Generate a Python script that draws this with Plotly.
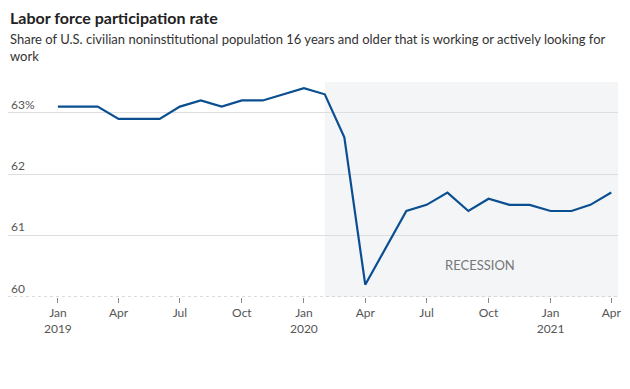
import plotly.graph_objects as go

months = ["2019-01-01","2019-02-01","2019-03-01","2019-04-01","2019-05-01","2019-06-01",
          "2019-07-01","2019-08-01","2019-09-01","2019-10-01","2019-11-01","2019-12-01",
          "2020-01-01","2020-02-01","2020-03-01","2020-04-01","2020-05-01","2020-06-01",
          "2020-07-01","2020-08-01","2020-09-01","2020-10-01","2020-11-01","2020-12-01",
          "2021-01-01","2021-02-01","2021-03-01","2021-04-01"]
rate = [63.1, 63.1, 63.1, 62.9, 62.9, 62.9,
        63.1, 63.2, 63.1, 63.2, 63.2, 63.3,
        63.4, 63.3, 62.6, 60.2, 60.8, 61.4,
        61.5, 61.7, 61.4, 61.6, 61.5, 61.5,
        61.4, 61.4, 61.5, 61.7]

x_tickvals = ["2019-01-01","2019-04-01","2019-07-01","2019-10-01","2020-01-01",
              "2020-04-01","2020-07-01","2020-10-01","2021-01-01","2021-04-01"]
x_ticktext = ["Jan<br>2019","Apr","Jul","Oct","Jan<br>2020","Apr","Jul","Oct","Jan<br>2021","Apr"]
y_tickvals = [60, 61, 62, 63]
y_ticktext = ["60", "61", "62", "63%"]

recession_start = "2020-02-01"
recession_label = "RECESSION"

FONT = "Lato, 'Open Sans', sans-serif"

fig = go.Figure()
fig.add_trace(go.Scatter(x=months, y=rate, mode="lines",
                         line=dict(color="#0b4f91", width=2.2),
                         hoverinfo="skip", showlegend=False))

fig.add_vrect(x0=recession_start, x1="2021-04-11", fillcolor="#f3f5f7",
              line_width=0, layer="below")

fig.add_annotation(x="2020-09-18", y=60.52, text=recession_label, showarrow=False,
                   font=dict(family=FONT, size=13, color="#777"))

fig.update_layout(
    width=614, height=373,
    margin=dict(l=0, r=4, t=74, b=84),
    paper_bgcolor="white", plot_bgcolor="white",
    font=dict(family=FONT, color="#555", size=12),
    xaxis=dict(range=["2018-10-19", "2021-04-11"], tickvals=x_tickvals, ticktext=x_ticktext,
               ticks="outside", ticklen=5, tickcolor="#888", tickwidth=1,
               showgrid=False, showline=False, zeroline=False,
               tickfont=dict(family=FONT, size=12, color="#555")),
    yaxis=dict(range=[60, 63.5], tickvals=y_tickvals, ticktext=y_ticktext,
               ticklabelposition="inside top", showgrid=True, gridcolor="#dedede",
               gridwidth=1, zeroline=False, showline=False, ticks="",
               tickfont=dict(family=FONT, size=12, color="#555")),
    annotations=list(fig.layout.annotations) + [
        dict(xref="paper", yref="paper", x=0, xanchor="left", y=1, yanchor="bottom",
             yshift=53, text="<b>Labor force participation rate</b>", showarrow=False,
             font=dict(family=FONT, size=16, color="#222"), align="left"),
        dict(xref="paper", yref="paper", x=0, xanchor="left", y=1, yanchor="bottom",
             yshift=16, text="Share of U.S. civilian noninstitutional population 16 years and older that is working or actively looking for<br>work",
             showarrow=False, font=dict(family=FONT, size=13, color="#333"), align="left"),
    ],
)

fig.add_shape(type="line", xref="paper", yref="y", x0=0, x1=1, y0=60, y1=60,
              line=dict(color="#bbb", width=1, dash="dot"))

fig.write_html("out.html")
